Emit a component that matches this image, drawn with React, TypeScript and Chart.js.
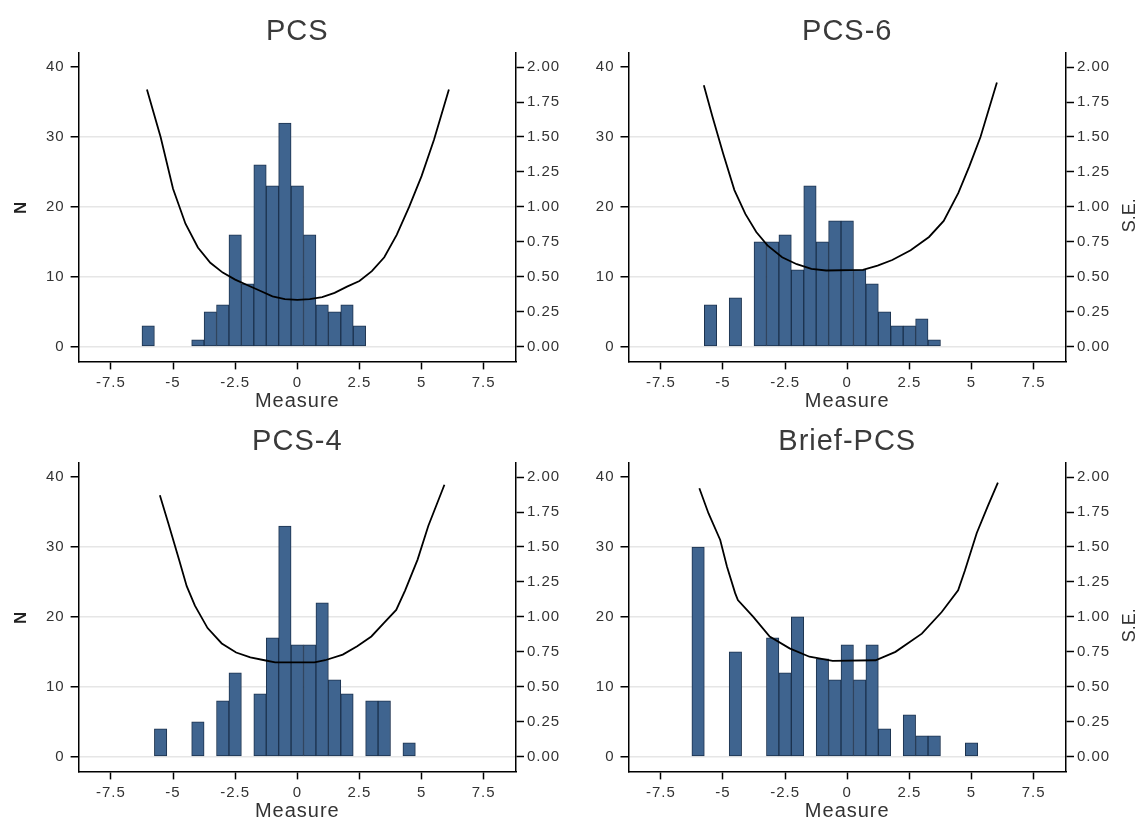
import React, { useEffect, useRef } from "react";
import { Chart, registerables } from "chart.js";

Chart.register(...registerables);

// ---------- data ----------
const xTickValues = [-7.5, -5, -2.5, 0, 2.5, 5, 7.5];
const nTickValues = [0, 10, 20, 30, 40];
const seTickValues = [0, 0.25, 0.5, 0.75, 1, 1.25, 1.5, 1.75, 2];

const titles = ["PCS", "PCS-6", "PCS-4", "Brief-PCS"];

// PCS
const pcsBins = [-6, -4, -3.5, -3, -2.5, -2, -1.5, -1, -0.5, 0, 0.5, 1, 1.5, 2, 2.5];
const pcsCounts = [3, 1, 5, 6, 16, 9, 26, 23, 32, 23, 16, 6, 5, 6, 3];
const pcsSeX = [-6.05, -5.5, -5, -4.5, -4, -3.5, -3, -2.5, -2, -1.5, -1, -0.5, 0, 0.5, 1, 1.5, 2, 2.5, 3, 3.5, 4, 4.5, 5, 5.5, 6.1];
const pcsSe = [1.84, 1.5, 1.13, 0.88, 0.71, 0.6, 0.53, 0.48, 0.44, 0.4, 0.36, 0.34, 0.335, 0.34, 0.355, 0.385, 0.43, 0.47, 0.54, 0.64, 0.8, 1.0, 1.22, 1.48, 1.84];

// PCS-6
const pcs6Bins = [-5.5, -4.5, -3.5, -3, -2.5, -2, -1.5, -1, -0.5, 0, 0.5, 1, 1.5, 2, 2.5, 3, 3.5];
const pcs6Counts = [6, 7, 15, 15, 16, 11, 23, 15, 18, 18, 11, 9, 5, 3, 3, 4, 1];
const pcs6SeX = [-5.77, -5.43, -4.99, -4.54, -4.1, -3.66, -3.21, -2.62, -2.03, -1.44, -0.85, 0.63, 1.22, 1.81, 2.55, 3.29, 3.88, 4.47, 4.91, 5.36, 6.02];
const pcs6Se = [1.87, 1.65, 1.38, 1.12, 0.95, 0.82, 0.725, 0.64, 0.59, 0.557, 0.545, 0.55, 0.58, 0.62, 0.69, 0.785, 0.9, 1.1, 1.29, 1.5, 1.89];

// PCS-4
const pcs4Bins = [-5.5, -4, -3, -2.5, -1.5, -1, -0.5, 0, 0.5, 1, 1.5, 2, 3, 3.5, 4.5];
const pcs4Counts = [4, 5, 8, 12, 9, 17, 33, 16, 16, 22, 11, 9, 8, 8, 2];
const pcs4SeX = [-5.53, -5.19, -4.76, -4.45, -4.12, -3.61, -3.04, -2.46, -1.89, -1.32, -0.89, 0.69, 1.12, 1.83, 2.41, 2.98, 3.48, 3.98, 4.34, 4.84, 5.27, 5.92];
const pcs4Se = [1.87, 1.67, 1.41, 1.22, 1.08, 0.92, 0.81, 0.745, 0.71, 0.69, 0.675, 0.675, 0.69, 0.73, 0.79, 0.86, 0.955, 1.05, 1.19, 1.41, 1.65, 1.945];

// Brief-PCS
const briefBins = [-6, -4.5, -3, -2.5, -2, -1, -0.5, 0, 0.5, 1, 1.5, 2.5, 3, 3.5, 5];
const briefCounts = [30, 15, 17, 12, 20, 14, 11, 16, 11, 16, 4, 6, 3, 3, 2];
const briefSeX = [-5.95, -5.58, -5.11, -4.84, -4.51, -4.4, -3.78, -3.12, -2.32, -1.52, -0.59, 1.14, 1.94, 3.0, 3.8, 4.46, 4.73, 5.21, 5.65, 6.06];
const briefSe = [1.92, 1.74, 1.55, 1.36, 1.17, 1.12, 1.0, 0.86, 0.775, 0.715, 0.686, 0.69, 0.75, 0.88, 1.035, 1.19, 1.33, 1.6, 1.79, 1.96];

// ---------- styling ----------
const FONT = '"Liberation Sans", Arial, Helvetica, sans-serif';
const BAR_FILL = "rgb(63,100,143)";
const BAR_EDGE = "rgb(28,50,78)";
const GRID = "#e6e6e6";
const TEXT = "#333333";
const TITLE_TEXT = "#3a3a3a";

type Panel = {
  title: string;
  bins: number[];
  counts: number[];
  seX: number[];
  se: number[];
  left: number;
  top: number;
  width: number;
  height: number;
  yW: number;
  y2W: number;
  showN: boolean;
  showSE: boolean;
};

const panels: Panel[] = [
  { title: titles[0], bins: pcsBins, counts: pcsCounts, seX: pcsSeX, se: pcsSe, left: 0, top: 0, width: 570, height: 410, yW: 78.6, y2W: 54, showN: true, showSE: false },
  { title: titles[1], bins: pcs6Bins, counts: pcs6Counts, seX: pcs6SeX, se: pcs6Se, left: 570, top: 0, width: 571, height: 410, yW: 58.5, y2W: 75, showN: false, showSE: true },
  { title: titles[2], bins: pcs4Bins, counts: pcs4Counts, seX: pcs4SeX, se: pcs4Se, left: 0, top: 410, width: 570, height: 410, yW: 78.6, y2W: 54, showN: true, showSE: false },
  { title: titles[3], bins: briefBins, counts: briefCounts, seX: briefSeX, se: briefSe, left: 570, top: 410, width: 571, height: 410, yW: 58.5, y2W: 75, showN: false, showSE: true },
];

const spacingPlugin = {
  id: "spacing",
  beforeDraw(chart: any) {
    (chart.ctx as any).letterSpacing = "1px";
  },
  afterDraw(chart: any) {
    (chart.ctx as any).letterSpacing = "0px";
  },
};

const seTitlePlugin = {
  id: "seTitle",
  afterDraw(chart: any, _args: any, opts: any) {
    if (!opts || !opts.display) return;
    const { ctx, chartArea, width } = chart;
    ctx.save();
    ctx.translate(width - opts.fromRight, (chartArea.top + chartArea.bottom) / 2 + 8);
    ctx.rotate(-Math.PI / 2);
    ctx.font = `18px ${FONT}`;
    ctx.fillStyle = TEXT;
    ctx.textAlign = "center";
    ctx.textBaseline = "middle";
    ctx.fillText(opts.text, 0, 0);
    ctx.restore();
  },
};

const tickFont = { family: FONT, size: 15 };
const axisBorder = { display: true, color: "#000", width: 1.5 };

function makeConfig(p: Panel): any {
  const plotBottom = 361.4;
  return {
    type: "bar",
    data: {
      datasets: [
        {
          type: "line",
          label: "S.E.",
          data: p.seX.map((x, i) => ({ x, y: p.se[i] })),
          xAxisID: "x",
          yAxisID: "y2",
          borderColor: "#000",
          borderWidth: 1.8,
          pointRadius: 0,
          tension: 0,
          fill: false,
          order: 0,
        },
        {
          type: "bar",
          label: "N",
          data: p.bins.map((x, i) => ({ x, y: p.counts[i] })),
          xAxisID: "x",
          yAxisID: "y",
          backgroundColor: BAR_FILL,
          borderColor: BAR_EDGE,
          borderWidth: 1,
          borderSkipped: false,
          barPercentage: 1,
          categoryPercentage: 1,
          order: 1,
        },
      ],
    },
    options: {
      responsive: false,
      animation: false,
      layout: { padding: 0 },
      plugins: {
        legend: { display: false },
        tooltip: { enabled: false },
        title: {
          display: true,
          fullSize: false,
          text: p.title,
          color: TITLE_TEXT,
          font: { family: FONT, size: 29, weight: "normal", lineHeight: 1.2 },
          padding: { top: 15, bottom: 3.3 },
        },
        seTitle: { display: p.showSE, text: "S.E.", fromRight: 11 },
      },
      scales: {
        x: {
          type: "linear",
          position: "bottom",
          offset: false,
          min: -8.8,
          max: 8.8,
          afterBuildTicks: (s: any) => {
            s.ticks = xTickValues.map((v) => ({ value: v }));
          },
          afterFit: (s: any) => {
            s.height = p.height - plotBottom;
          },
          ticks: {
            font: tickFont,
            color: TEXT,
            padding: 4,
            maxRotation: 0,
            autoSkip: false,
            callback: (v: number) => String(v),
          },
          grid: { offset: false, drawOnChartArea: false, drawTicks: true, tickLength: 8, tickColor: "#000", tickWidth: 1.5 },
          border: axisBorder,
          title: {
            display: true,
            text: "Measure",
            color: TEXT,
            font: { family: FONT, size: 20, lineHeight: 1 },
            padding: { top: 0, bottom: -1 },
          },
        },
        y: {
          type: "linear",
          position: "left",
          min: -2.1,
          max: 42,
          afterBuildTicks: (s: any) => {
            s.ticks = nTickValues.map((v) => ({ value: v }));
          },
          afterFit: (s: any) => {
            s.width = p.yW;
          },
          ticks: {
            font: tickFont,
            color: TEXT,
            padding: 6,
            autoSkip: false,
            callback: (v: number) => String(v),
          },
          grid: {
            drawOnChartArea: true,
            color: (c: any) => (c.tick && c.tick.value === 40 ? "rgba(0,0,0,0)" : GRID),
            lineWidth: 1.5,
            drawTicks: true,
            tickLength: 8,
            tickColor: "#000",
            tickWidth: 1.5,
          },
          border: axisBorder,
          title: {
            display: p.showN,
            text: "N",
            color: "#222",
            font: { family: FONT, size: 17, weight: "bold", lineHeight: 1 },
            padding: { top: 13, bottom: 0 },
          },
        },
        y2: {
          type: "linear",
          position: "right",
          min: -0.105,
          max: 2.1,
          afterBuildTicks: (s: any) => {
            s.ticks = seTickValues.map((v) => ({ value: v }));
          },
          afterFit: (s: any) => {
            s.width = p.y2W;
          },
          ticks: {
            font: tickFont,
            color: TEXT,
            padding: 3,
            autoSkip: false,
            callback: (v: number) => v.toFixed(2),
          },
          grid: { drawOnChartArea: false, drawTicks: true, tickLength: 8, tickColor: "#000", tickWidth: 1.5 },
          border: axisBorder,
        },
      },
    },
    plugins: [spacingPlugin, seTitlePlugin],
  };
}

function PanelChart({ p }: { p: Panel }) {
  const ref = useRef<HTMLCanvasElement | null>(null);
  useEffect(() => {
    if (!ref.current) return;
    const chart = new Chart(ref.current, makeConfig(p));
    return () => chart.destroy();
  }, [p]);
  return (
    <canvas
      ref={ref}
      width={p.width}
      height={p.height}
      style={{ position: "absolute", left: p.left, top: p.top, width: p.width, height: p.height, display: "block" }}
    />
  );
}

export default function App() {
  return (
    <div
      style={{
        position: "absolute",
        left: 0,
        top: 0,
        width: 1141,
        height: 819,
        overflow: "hidden",
        background: "#ffffff",
      }}
    >
      {panels.map((p) => (
        <PanelChart key={p.title} p={p} />
      ))}
    </div>
  );
}
